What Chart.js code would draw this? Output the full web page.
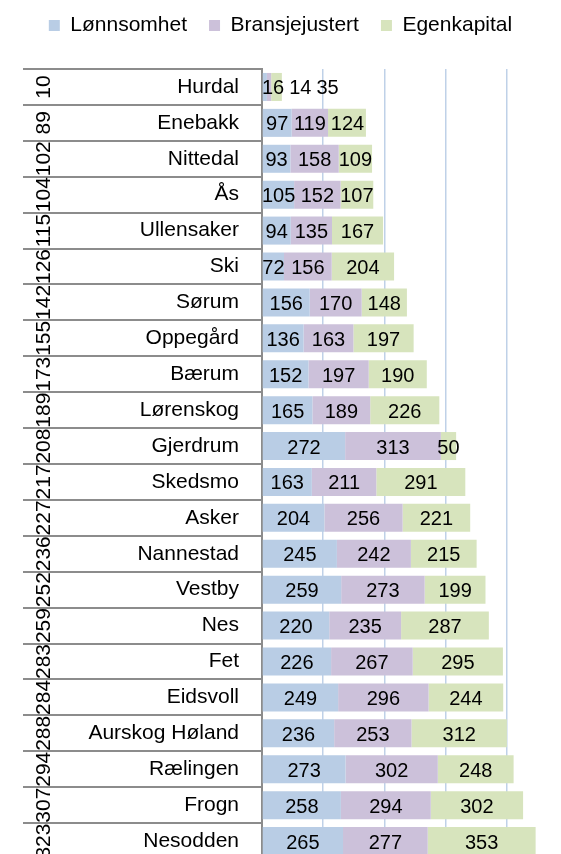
<!DOCTYPE html>
<html>
<head>
<meta charset="utf-8">
<script src="https://cdn.jsdelivr.net/npm/chart.js@4.4.1/dist/chart.umd.min.js"></script>
<style>
html, body { margin: 0; padding: 0; background: #fff; overflow: hidden; }
#wrap { position: relative; width: 561px; height: 859px; }
</style>
</head>
<body>
<div id="wrap"><canvas id="myChart"></canvas></div>
<script>
const kommuner = ["Hurdal", "Enebakk", "Nittedal", "Ås", "Ullensaker", "Ski", "Sørum", "Oppegård",
    "Bærum", "Lørenskog", "Gjerdrum", "Skedsmo", "Asker", "Nannestad", "Vestby", "Nes", "Fet",
    "Eidsvoll", "Aurskog Høland", "Rælingen", "Frogn", "Nesodden"];
const rangering = [10, 89, 102, 104, 115, 126, 142, 155, 173, 189, 208, 217, 227, 236, 252, 259,
    283, 284, 288, 294, 307, 323];
const lonnsomhet = [16, 97, 93, 105, 94, 72, 156, 136, 152, 165, 272, 163, 204, 245, 259, 220,
    226, 249, 236, 273, 258, 265];
const bransjejustert = [14, 119, 158, 152, 135, 156, 170, 163, 197, 189, 313, 211, 256, 242, 273,
    235, 267, 296, 253, 302, 294, 277];
const egenkapital = [35, 124, 109, 107, 167, 204, 148, 197, 190, 226, 50, 291, 221, 215, 199, 287,
    295, 244, 312, 248, 302, 353];
const xMax = 978;
const gridTicks = [0, 200, 400, 600, 800];

const FONT = '"Liberation Sans", Arial, sans-serif';

// make room between legend and plot
const legendGap = {
    id: 'legendGap',
    beforeLayout(chart) {
        const lg = chart.legend;
        if (lg && !lg._gapPatched) {
            const fit = lg.fit;
            lg.fit = function () { fit.call(lg); this.height += 23; };
            lg._gapPatched = true;
        }
    }
};

// table lines + rotated rank numbers on the left
const tabell = {
    id: 'tabell',
    afterDraw(chart) {
        const ctx = chart.ctx;
        const y = chart.scales.y;
        const left = chart.chartArea.left;
        const rowH = y.getPixelForValue(1) - y.getPixelForValue(0);
        ctx.save();
        ctx.strokeStyle = '#8c8c8c';
        ctx.lineWidth = 2;
        for (let i = 0; i <= kommuner.length; i++) {
            const yy = Math.round(y.getPixelForValue(i) - rowH / 2);
            ctx.beginPath();
            ctx.moveTo(23, yy);
            ctx.lineTo(left, yy);
            ctx.stroke();
        }
        ctx.fillStyle = '#000';
        ctx.font = '21px ' + FONT;
        ctx.textAlign = 'center';
        ctx.textBaseline = 'middle';
        rangering.forEach((r, i) => {
            ctx.save();
            ctx.translate(44, y.getPixelForValue(i));
            ctx.rotate(-Math.PI / 2);
            ctx.fillText(String(r), 0, 0);
            ctx.restore();
        });
        ctx.restore();
    }
};

// value labels centred in each segment
const verdiEtiketter = {
    id: 'verdiEtiketter',
    afterDatasetsDraw(chart) {
        const ctx = chart.ctx;
        ctx.save();
        ctx.font = '20px ' + FONT;
        ctx.fillStyle = '#000';
        ctx.textAlign = 'left';
        ctx.textBaseline = 'middle';
        for (let i = 0; i < chart.data.labels.length; i++) {
            let prevRight = chart.chartArea.left;
            chart.data.datasets.forEach((ds, d) => {
                const bar = chart.getDatasetMeta(d).data[i];
                const txt = String(ds.data[i]);
                const w = ctx.measureText(txt).width;
                let x = (bar.base + bar.x) / 2 - w / 2;
                x = Math.max(x, prevRight + (d ? 5 : 0));
                ctx.fillText(txt, x, bar.y + 2);
                prevRight = x + w;
            });
        }
        ctx.restore();
    }
};

const ctx = document.getElementById('myChart');

new Chart(ctx, {
    type: 'bar',
    data: {
        labels: kommuner,
        datasets: [
            { label: 'Lønnsomhet', data: lonnsomhet, backgroundColor: '#b9cde5', borderWidth: 0 },
            { label: 'Bransjejustert', data: bransjejustert, backgroundColor: '#ccc1da', borderWidth: 0 },
            { label: 'Egenkapital', data: egenkapital, backgroundColor: '#d7e4bd', borderWidth: 0 }
        ]
    },
    options: {
        indexAxis: 'y',
        responsive: true,
        maintainAspectRatio: false,
        animation: false,
        devicePixelRatio: 1,
        layout: { padding: { top: -7, left: 0, right: 0, bottom: 0 } },
        datasets: { bar: { barPercentage: 0.78, categoryPercentage: 1 } },
        scales: {
            x: {
                stacked: true,
                min: 0,
                max: xMax,
                afterBuildTicks(scale) { scale.ticks = gridTicks.map(v => ({ value: v })); },
                ticks: { display: false },
                border: { display: false },
                grid: {
                    drawTicks: false,
                    lineWidth: 1.5,
                    color: c => (c.tick && c.tick.value > 0) ? '#bfd1e8' : 'rgba(0,0,0,0)'
                }
            },
            y: {
                stacked: true,
                afterFit(scale) {
                    scale.width = 262;
                    scale.paddingTop = 0;
                    scale.paddingBottom = 0;
                },
                grid: { display: false, drawTicks: false },
                border: { display: true, color: '#8c8c8c', width: 2 },
                ticks: { color: '#000', padding: 23, font: { family: FONT, size: 21 } }
            }
        },
        plugins: {
            legend: {
                display: true,
                position: 'top',
                labels: {
                    boxWidth: 11,
                    boxHeight: 11,
                    padding: 22,
                    color: '#000',
                    font: { family: FONT, size: 21 }
                }
            },
            tooltip: { enabled: false }
        }
    },
    plugins: [legendGap, tabell, verdiEtiketter]
});
</script>
</body>
</html>
